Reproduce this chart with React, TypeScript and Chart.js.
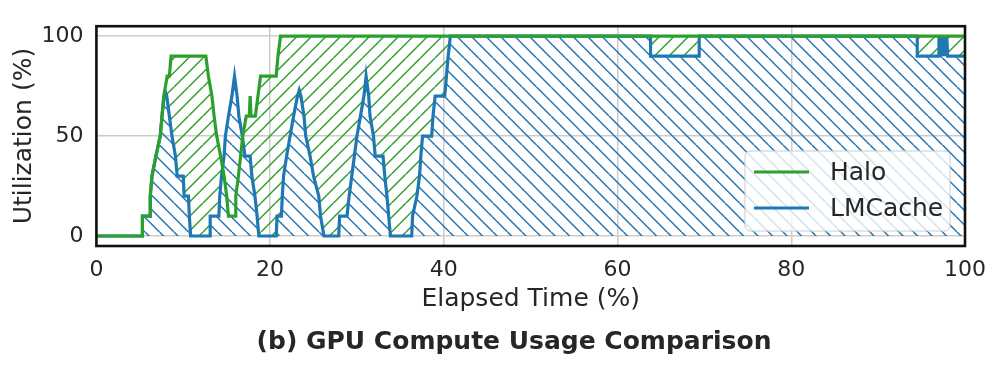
import React, { useEffect, useRef } from 'react';
import { Chart, registerables } from 'chart.js';

Chart.register(...registerables);

// ---- data ----
const seriesNames = ['Halo', 'LMCache'];

const haloX = [0, 5.3, 5.3, 6.2, 6.2, 6.4, 6.85, 7.35, 7.55, 7.75, 8.15, 8.4, 8.6, 12.6, 12.9, 13.3, 13.55, 13.85, 14.3, 14.7, 15.0, 15.2, 16.0, 16.05, 16.35, 16.6, 16.85, 17.25, 17.6, 17.7, 17.8, 18.3, 18.6, 18.9, 20.7, 20.9, 21.2, 100];
const haloY = [0, 0, 10, 10, 20, 30, 40, 50, 60, 70, 80, 80, 90, 90, 80, 70, 60, 50, 40, 30, 20, 10, 10, 20, 30, 40, 50, 60, 60, 70, 60, 60, 70, 80, 80, 90, 100, 100];

const lmcacheX = [0, 5.3, 5.3, 6.2, 6.2, 6.4, 6.85, 7.35, 7.55, 7.8, 7.95, 8.1, 8.4, 8.7, 9.1, 9.3, 10.0, 10.1, 10.6, 10.7, 10.85, 13.1, 13.1, 14.1, 14.2, 14.4, 14.7, 14.85, 15.2, 15.6, 15.9, 16.2, 16.4, 16.8, 17.1, 17.7, 17.9, 18.25, 18.5, 18.7, 20.7, 20.8, 21.3, 21.4, 21.55, 21.9, 22.3, 22.7, 23.15, 23.35, 23.55, 23.9, 24.1, 24.6, 25.0, 25.6, 25.8, 26.2, 27.9, 28.0, 28.85, 29.1, 29.4, 29.7, 30.0, 30.4, 30.8, 31.05, 31.15, 31.35, 31.5, 31.9, 32.1, 33.0, 33.2, 33.45, 33.65, 33.85, 36.3, 36.4, 36.9, 37.2, 37.35, 37.55, 38.6, 38.75, 39.0, 40.1, 40.3, 40.5, 40.75, 63.8, 63.8, 69.4, 69.4, 94.5, 94.5, 97.0, 97.0, 97.15, 97.3, 97.45, 97.6, 97.75, 97.9, 98.0, 100];
const lmcacheY = [0, 0, 10, 10, 20, 30, 40, 50, 60, 70, 72, 70, 60, 50, 40, 30, 30, 20, 20, 10, 0, 0, 10, 10, 20, 30, 40, 50, 60, 70, 80, 70, 60, 50, 40, 40, 30, 20, 10, 0, 0, 10, 10, 20, 30, 40, 50, 60, 70, 73, 70, 60, 50, 40, 30, 20, 10, 0, 0, 10, 10, 20, 30, 40, 50, 60, 70, 80, 80, 70, 60, 50, 40, 40, 30, 20, 10, 0, 0, 10, 20, 30, 40, 50, 50, 60, 70, 70, 80, 90, 100, 100, 90, 90, 100, 100, 90, 90, 100, 90, 100, 90, 100, 90, 100, 90, 90];

const xTicks = [0, 20, 40, 60, 80, 100];
const yTicks = [0, 50, 100];

const xTitle = 'Elapsed Time (%)';
const yTitle = 'Utilization (%)';
const figTitle = '(b) GPU Compute Usage Comparison';

// ---- styling ----
const GREEN = '#2ca02c';
const BLUE = '#1f77b4';
const TEXT = '#262626';
const FONT = "'DejaVu Sans', 'Liberation Sans', Arial, sans-serif";

function makeHatch(color: string, dir: '/' | '\\'): CanvasPattern | string {
  const size = 29;
  const step = 14.5;
  const c = document.createElement('canvas');
  c.width = size;
  c.height = size;
  const ctx = c.getContext('2d');
  if (!ctx) return color;
  ctx.strokeStyle = color;
  ctx.lineWidth = 1.5;
  for (let k = -4; k <= 4; k++) {
    const x0 = k * step;
    ctx.beginPath();
    if (dir === '/') {
      ctx.moveTo(x0, size);
      ctx.lineTo(x0 + size, 0);
    } else {
      ctx.moveTo(x0, 0);
      ctx.lineTo(x0 + size, size);
    }
    ctx.stroke();
  }
  return ctx.createPattern(c, 'repeat') || color;
}

const framePlugin = {
  id: 'frameAndLegend',
  afterDraw(chart: any) {
    const { ctx, chartArea: a } = chart;
    ctx.save();
    // frame
    ctx.strokeStyle = '#111111';
    ctx.lineWidth = 2.6;
    ctx.strokeRect(a.left, a.top, a.right - a.left, a.bottom - a.top);

    // legend
    const w = 205;
    const h = 80;
    const right = a.right - 15;
    const bottom = a.bottom - 15;
    const left = right - w;
    const top = bottom - h;
    const r = 5;
    ctx.beginPath();
    ctx.moveTo(left + r, top);
    ctx.lineTo(right - r, top);
    ctx.arcTo(right, top, right, top + r, r);
    ctx.lineTo(right, bottom - r);
    ctx.arcTo(right, bottom, right - r, bottom, r);
    ctx.lineTo(left + r, bottom);
    ctx.arcTo(left, bottom, left, bottom - r, r);
    ctx.lineTo(left, top + r);
    ctx.arcTo(left, top, left + r, top, r);
    ctx.closePath();
    ctx.fillStyle = 'rgba(255,255,255,0.8)';
    ctx.fill();
    ctx.strokeStyle = '#cccccc';
    ctx.lineWidth = 1;
    ctx.stroke();

    const colors = [GREEN, BLUE];
    const rows = [top + 21, top + 57];
    seriesNames.forEach((name, i) => {
      ctx.strokeStyle = colors[i];
      ctx.lineWidth = 3.2;
      ctx.beginPath();
      ctx.moveTo(left + 9, rows[i]);
      ctx.lineTo(left + 64, rows[i]);
      ctx.stroke();
      ctx.fillStyle = TEXT;
      ctx.font = `25px ${FONT}`;
      ctx.textAlign = 'left';
      ctx.textBaseline = 'middle';
      ctx.fillText(name, left + 85, rows[i] + 1);
    });

    // figure title
    ctx.fillStyle = TEXT;
    ctx.font = `bold 25px ${FONT}`;
    ctx.textAlign = 'center';
    ctx.textBaseline = 'middle';
    ctx.fillText(figTitle, 514, 342);
    ctx.restore();
  },
};

export default function App() {
  const ref = useRef<HTMLCanvasElement>(null);

  useEffect(() => {
    const canvas = ref.current;
    if (!canvas) return;
    const greenHatch = makeHatch(GREEN, '/');
    const blueHatch = makeHatch(BLUE, '\\');

    const chart = new Chart(canvas, {
      type: 'line',
      data: {
        datasets: [
          {
            label: seriesNames[0],
            data: haloX.map((x, i) => ({ x, y: haloY[i] })),
            borderColor: GREEN,
            borderWidth: 3.2,
            pointRadius: 0,
            tension: 0,
            fill: { target: 1, above: greenHatch, below: 'rgba(0,0,0,0)' },
          },
          {
            label: seriesNames[1],
            data: lmcacheX.map((x, i) => ({ x, y: lmcacheY[i] })),
            borderColor: BLUE,
            borderWidth: 3.2,
            pointRadius: 0,
            tension: 0,
            backgroundColor: blueHatch,
            fill: { target: 'origin', above: blueHatch, below: blueHatch },
          },
        ],
      },
      options: {
        responsive: false,
        animation: false,
        devicePixelRatio: 1,
        layout: { padding: { top: 9, right: 29, left: 0, bottom: 0 } },
        plugins: {
          legend: { display: false },
          tooltip: { enabled: false },
          title: { display: false },
          filler: { drawTime: 'beforeDatasetsDraw' },
        } as any,
        scales: {
          x: {
            type: 'linear',
            min: 0,
            max: 100,
            afterBuildTicks: (s: any) => {
              s.ticks = xTicks.map((v) => ({ value: v }));
            },
            afterFit: (s: any) => {
              s.height = 119;
            },
            grid: { color: '#cccccc', lineWidth: 1.5, drawTicks: false },
            border: { display: false },
            ticks: { font: { family: FONT, size: 22 }, color: TEXT, padding: 11, maxRotation: 0, autoSkip: false },
            title: { display: true, text: xTitle, font: { family: FONT, size: 25 }, color: TEXT, padding: { top: 0, bottom: 51 } },
          },
          y: {
            type: 'linear',
            min: -5,
            max: 105,
            afterBuildTicks: (s: any) => {
              s.ticks = yTicks.map((v) => ({ value: v }));
            },
            afterFit: (s: any) => {
              s.width = 96.4;
            },
            grid: { color: '#cccccc', lineWidth: 1.5, drawTicks: false },
            border: { display: false },
            ticks: { font: { family: FONT, size: 22 }, color: TEXT, padding: 13 },
            title: { display: true, text: yTitle, font: { family: FONT, size: 25 }, color: TEXT, padding: { top: 9, bottom: 0 } },
          },
        },
      },
      plugins: [framePlugin],
    });
    return () => chart.destroy();
  }, []);

  return (
    <div style={{ position: 'absolute', left: 0, top: 0, width: 997, height: 365, background: '#ffffff' }}>
      <canvas ref={ref} width={997} height={365} style={{ width: 997, height: 365, display: 'block' }} />
    </div>
  );
}
